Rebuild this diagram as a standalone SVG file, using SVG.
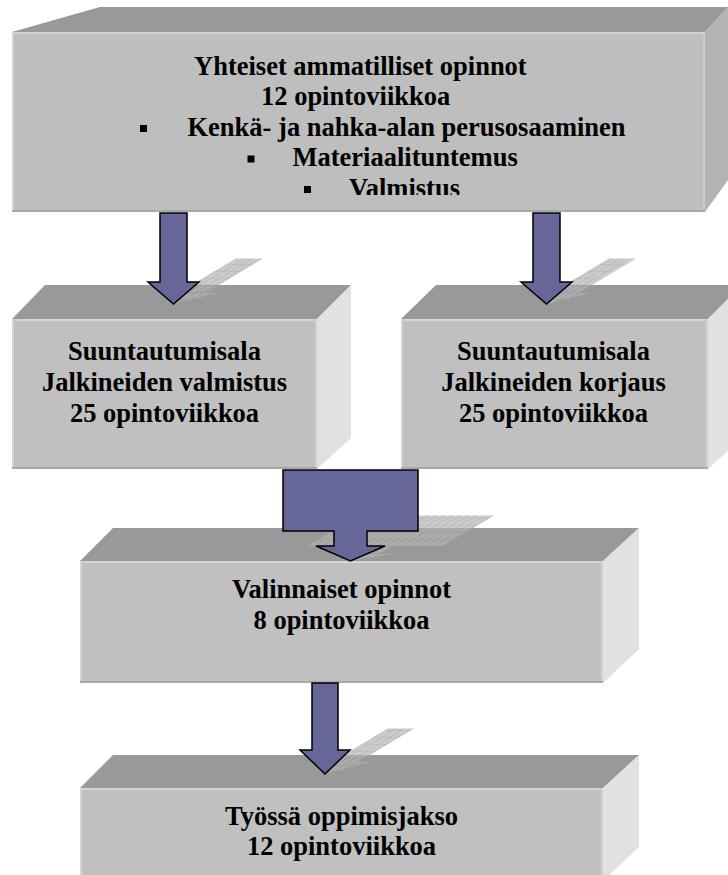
<svg xmlns="http://www.w3.org/2000/svg" width="728" height="875" viewBox="0 0 728 875">
  <defs>
    <style>
      .top { fill: #999999; }
      .front { fill: #c0c0c0; }
      .side { fill: #e1e1e1; }
      .side-dark { fill: #b3b3b3; }
      .hl { stroke: #d4d4d4; stroke-width: 2; fill: none; }
      .lo { stroke: #a8a8a8; stroke-width: 2; fill: none; }
      text { font-family: 'Liberation Serif', 'Times New Roman', serif; font-weight: bold; font-size: 26.5px; fill: #000000; }
      .mid { text-anchor: middle; }
      .arrow { fill: #666699; stroke: #000000; stroke-width: 1.5; stroke-linejoin: miter; }
      .shadow { fill: url(#hatch); opacity: 0.7; }
      .bullet { fill: #000000; }
    </style>
    <pattern id="hatch" patternUnits="userSpaceOnUse" width="8" height="14">
      <rect width="8" height="14" fill="#b4b4b4"/>
      <path d="M0 0 H8 M0 0 V14" stroke="#747474" stroke-width="1" fill="none"/>
    </pattern>
    <clipPath id="topclip">
      <rect x="12" y="32" width="693" height="163"/>
    </clipPath>
  </defs>

  <!-- Top node -->
  <g id="node-yhteiset">
    <polygon class="top" points="12,32 100,7 728,7 705,32"/>
    <polygon class="side-dark" points="705,32 728,7 728,180 705,212"/>
    <rect class="front" x="12" y="32" width="693" height="180" style="fill:#bebebe"/>
    <path class="hl" d="M13,212 V33 H705"/>
    <path d="M704,33 V211" stroke="#cccccc" stroke-width="2"/>
    <path class="lo" d="M12,211 H705"/>
    <g clip-path="url(#topclip)">
      <text x="194" y="75">Yhteiset ammatilliset opinnot</text>
      <text x="261" y="105">12 opintoviikkoa</text>
      <rect class="bullet" x="140" y="125" width="7" height="7"/>
      <text x="187.5" y="135.5">Kenkä- ja nahka-alan perusosaaminen</text>
      <rect class="bullet" x="247.5" y="155.5" width="7" height="7"/>
      <text x="292.5" y="166">Materiaalituntemus</text>
      <rect class="bullet" x="304" y="186" width="7" height="7"/>
      <text x="349" y="196.5">Valmistus</text>
    </g>
  </g>

  <!-- Left middle node -->
  <g id="node-valmistus">
    <polygon class="top" points="12,319 45,285 351,285 317,319"/>
    <polygon class="side" points="317,319 351,285 351,438 317,469"/>
    <rect class="front" x="12" y="319" width="305" height="150"/>
    <path class="hl" d="M13,469 V320 H317"/>
    <path d="M316,320 V468" stroke="#d0d0d0" stroke-width="2"/>
    <path class="lo" d="M12,468 H317"/>
    <text class="mid" x="164.5" y="360">Suuntautumisala</text>
    <text class="mid" x="164.5" y="390.5">Jalkineiden valmistus</text>
    <text class="mid" x="164.5" y="421.5">25 opintoviikkoa</text>
  </g>

  <!-- Right middle node -->
  <g id="node-korjaus">
    <polygon class="top" points="401,319 436,285 742,285 708,319"/>
    <polygon class="side" points="708,319 742,285 742,438 708,469"/>
    <rect class="front" x="401" y="319" width="307" height="150"/>
    <path class="hl" d="M402,469 V320 H708"/>
    <path d="M707,320 V468" stroke="#d0d0d0" stroke-width="2"/>
    <path class="lo" d="M401,468 H708"/>
    <text class="mid" x="553.5" y="360">Suuntautumisala</text>
    <text class="mid" x="553.5" y="390.5">Jalkineiden korjaus</text>
    <text class="mid" x="553.5" y="421.5">25 opintoviikkoa</text>
  </g>

  <!-- Valinnaiset node -->
  <g id="node-valinnaiset">
    <polygon class="top" points="80,561 113,528 639,528 603,561"/>
    <polygon class="side" points="603,561 639,528 639,649 603,683"/>
    <rect class="front" x="80" y="561" width="523" height="122"/>
    <path class="hl" d="M81,683 V562 H603"/>
    <path d="M602,562 V682" stroke="#d0d0d0" stroke-width="2"/>
    <path class="lo" d="M80,682 H603"/>
    <text class="mid" x="341.5" y="597.5">Valinnaiset opinnot</text>
    <text class="mid" x="341.5" y="628.5">8 opintoviikkoa</text>
  </g>

  <!-- Bottom node -->
  <g id="node-tyossa">
    <polygon class="top" points="80,788 113,755 639,755 603,788"/>
    <polygon class="side" points="603,788 639,755 639,847 603,881"/>
    <rect class="front" x="80" y="788" width="523" height="93"/>
    <path class="hl" d="M81,881 V789 H603"/>
    <path d="M602,789 V881" stroke="#d0d0d0" stroke-width="2"/>
    <text class="mid" x="341.5" y="825">Työssä oppimisjakso</text>
    <text class="mid" x="341.5" y="855">12 opintoviikkoa</text>
  </g>

  <!-- Connectors -->
  <g id="connectors">
    <polygon class="shadow" transform="matrix(1,0,-0.835,0.5,253.84,152)" points="160,213 187,213 187,282 199,282 173.5,304 148,282 160,282"/>
    <polygon class="arrow" points="160,213 187,213 187,282 199,282 173.5,304 148,282 160,282"/>

    <polygon class="shadow" transform="matrix(1,0,-0.835,0.5,253.84,152)" points="533,213 560,213 560,282 572,282 546.5,304 521,282 533,282"/>
    <polygon class="arrow" points="533,213 560,213 560,282 572,282 546.5,304 521,282 533,282"/>

    <polygon class="shadow" transform="matrix(1,0,-0.835,0.5,468.4,280.5)" points="283,470 418,470 418,531 367,531 367,546 385,546 350.5,561 316,546 334,546 334,531 283,531"/>
    <polygon class="arrow" points="283,470 418,470 418,531 367,531 367,546 385,546 350.5,561 316,546 334,546 334,531 283,531"/>

    <polygon class="shadow" transform="matrix(1,0,-0.835,0.5,646.3,387)" points="312,683 338,683 338,750 350,750 325,774 300,750 312,750"/>
    <polygon class="arrow" points="312,683 338,683 338,750 350,750 325,774 300,750 312,750"/>
  </g>
</svg>
